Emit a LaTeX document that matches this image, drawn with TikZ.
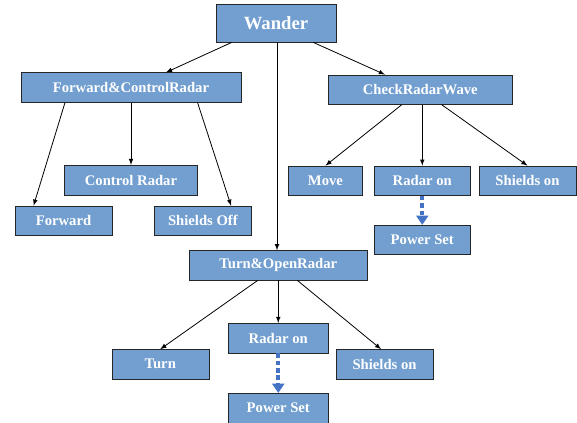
\documentclass[tikz,border=0pt]{standalone}
\usepackage{fontspec}
\setmainfont{Liberation Serif}
\usepackage{tikz}
\usetikzlibrary{shapes.geometric, arrows, arrows.meta}
\definecolor{boxblue}{RGB}{114,159,207}
\definecolor{dashblue}{RGB}{68,114,196}
\tikzstyle{tasknode} = [rectangle, 
minimum width=72.75pt, 
minimum height=22.2pt,
inner sep=0pt,
text centered, 
draw=black!85,
fill=boxblue,
text=white,
font=\bfseries\fontsize{11}{13}\selectfont]
\tikzstyle{rootnode} = [tasknode,
minimum width=90pt, 
minimum height=28.5pt,
font=\bfseries\fontsize{14}{16}\selectfont]
\tikzstyle{arrow} = [line width=0.6pt,->,>=latex]
\tikzstyle{powerarrow} = [line width=2.8pt, draw=dashblue,
dash pattern=on 3.4pt off 2.2pt,
-{Triangle[length=7pt,width=9pt,fill=dashblue]}]

\begin{document}
\begin{tikzpicture}[node distance=50pt]
\useasboundingbox (0,0) rectangle (432.75pt,-317.25pt);

\node (wander) [rootnode] at (207pt,-17.25pt) {Wander};

\node (fcr) [tasknode, minimum width=165pt, below of=wander, xshift=-108.75pt, yshift=1.65pt] {Forward\&ControlRadar};

\node (crw) [tasknode, minimum width=138pt, below of=wander, xshift=108.2pt] {CheckRadarWave};

\node (ctrl) [tasknode, minimum width=99.75pt, below of=fcr, yshift=-19.4pt] {Control Radar};

\node (fwd) [tasknode, node distance=100pt, below of=fcr, xshift=-50.6pt] {Forward};

\node (soff) [tasknode, node distance=100pt, below of=fcr, xshift=53.9pt] {Shields Off};

\node (move) [tasknode, minimum width=55.2pt, node distance=68.3pt, below of=crw, xshift=-71.1pt] {Move};

\node (ront) [tasknode, minimum width=72pt, node distance=68.3pt, below of=crw, xshift=1.5pt] {Radar on};

\node (sont) [tasknode, node distance=68.3pt, below of=crw, xshift=80.4pt] {Shields on};

\node (pst) [tasknode, minimum width=72pt, node distance=44.4pt, below of=ront] {Power Set};

\node (tor) [tasknode, minimum width=133.5pt, node distance=181.75pt, below of=wander, xshift=1.7pt] {Turn\&OpenRadar};

\node (ronb) [tasknode, minimum width=74.8pt, node distance=54.5pt, below of=tor] {Radar on};

\node (turn) [tasknode, node distance=74.2pt, below of=tor, xshift=-88.5pt] {Turn};

\node (sonb) [tasknode, node distance=74.2pt, below of=tor, xshift=79.7pt] {Shields on};

\node (psb) [tasknode, minimum width=75pt, node distance=52.5pt, below of=ronb] {Power Set};


\draw [arrow] ([xshift=-33pt]wander.south) -- ([xshift=26.25pt]fcr.north);

\draw [arrow] ([xshift=27.75pt]wander.south) -- ([xshift=-26.5pt]crw.north);

\draw [arrow] ([xshift=0.75pt]wander.south) -- ([xshift=0.75pt]wander.south |- tor.north);

\draw [arrow] ([xshift=-49.5pt]fcr.south) -- ([xshift=-22.5pt]fwd.north);

\draw [arrow] (fcr.south -| ctrl.north) -- (ctrl.north);

\draw [arrow] ([xshift=49.9pt]fcr.south) -- ([xshift=21.15pt]soff.north);

\draw [arrow] ([xshift=-13.9pt]crw.south) -- (move.north);

\draw [arrow] (crw.south -| ront.north) -- (ront.north);

\draw [arrow] ([xshift=16.1pt]crw.south) -- (sont.north);

\draw [arrow] ([xshift=-15.4pt]tor.south) -- (turn.north);

\draw [arrow] (tor.south -| ronb.north) -- (ronb.north);

\draw [arrow] ([xshift=14.3pt]tor.south) -- ([xshift=-2.6pt]sonb.north);

\draw [powerarrow] (ront.south) -- (pst.north);

\draw [powerarrow] (ronb.south) -- (psb.north);

\end{tikzpicture}
\end{document}
